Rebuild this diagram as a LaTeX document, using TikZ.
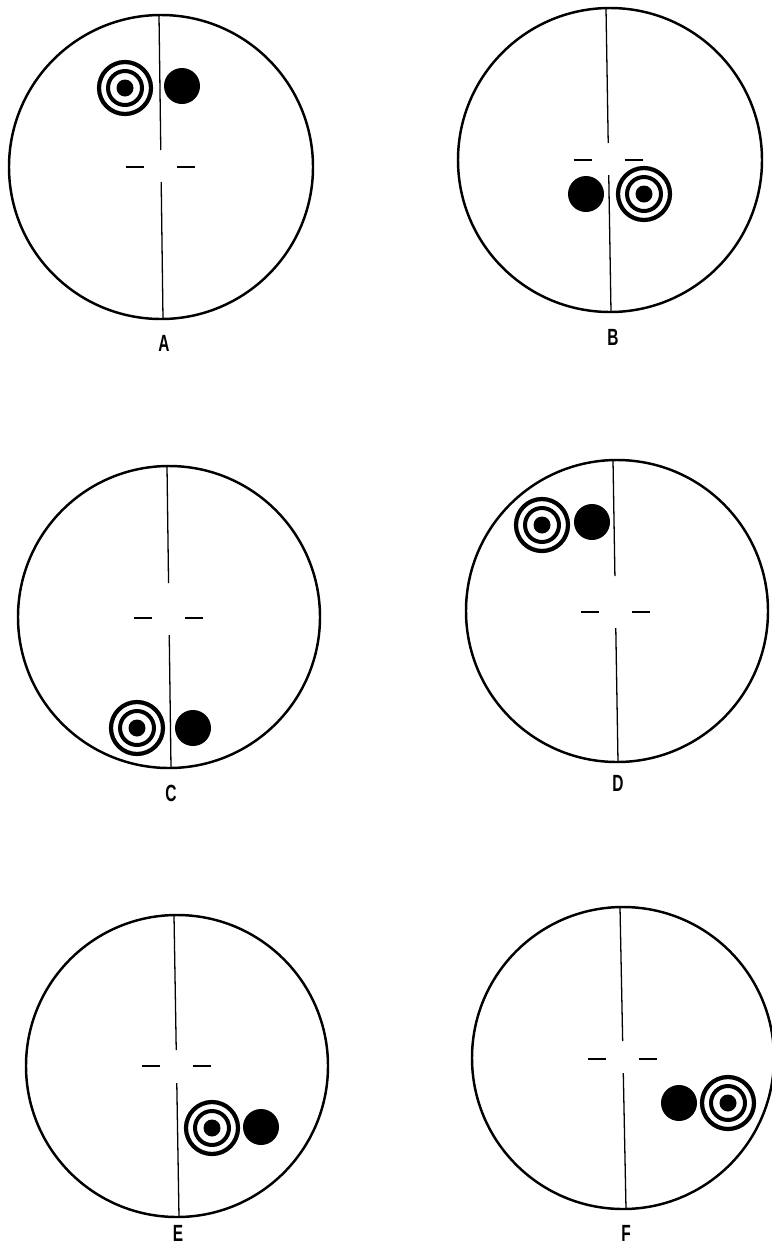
\documentclass[tikz,border=0pt]{standalone}
\usepackage{fontspec}
\usepackage{tikz}
\usetikzlibrary{calc}
\newfontfamily\tagfont{Liberation Sans}
\tikzset{
  rim/.style={line width=2.1pt},
  hair/.style={line width=1.1pt},
  tick/.style={line width=1.2pt},
  panel/.style={font=\tagfont\bfseries\fontsize{20}{20}\selectfont,inner sep=0pt},
}
\newcommand{\target}[2]{%
  \draw[line width=3.6pt] (#1,#2) circle (26);
  \draw[line width=3.4pt] (#1,#2) circle (17);
  \fill (#1,#2) circle (8.5);
}
\newcommand{\spot}[2]{\fill (#1,#2) circle (18);}
% \reticle{cx}{cy}{r}{top x}{bottom x}{gap top}{gap bottom}{tick y}
\newcommand{\reticle}[8]{%
  \draw[rim] (#1,#2) circle (#3);
  \coordinate (t) at (#4,#2-#3);
  \coordinate (b) at (#5,#2+#3);
  \pgfmathsetmacro{\gapa}{(#6-#2+#3)/(2*#3)}
  \pgfmathsetmacro{\gapb}{(#7-#2+#3)/(2*#3)}
  \draw[hair] (t) -- ($(t)!\gapa!(b)$);
  \draw[hair] ($(t)!\gapb!(b)$) -- (b);
  \pgfmathsetmacro{\xmid}{(#4+#5)/2}
  \draw[tick] (\xmid-35,#8) -- (\xmid-17,#8);
  \draw[tick] (\xmid+16,#8) -- (\xmid+34,#8);
}

\begin{document}
\begin{tikzpicture}[x=0.03cm,y=-0.03cm]
\useasboundingbox (0,0) rectangle (771,1249);
\reticle{161}{167}{152}{159}{163}{150}{182}{167}
\target{125}{88} \spot{182}{86}
\node[panel] (labA) at (164,343) {\scalebox{0.66}[1]{A}};

\reticle{610}{160}{152}{606}{611}{143}{175}{160}
\target{644}{194} \spot{586}{194}
\node[panel] (labB) at (613,337) {\scalebox{0.66}[1]{B}};

\reticle{169}{617}{151}{167}{171}{583}{635}{618}
\target{137}{728} \spot{193}{728}
\node[panel] (labC) at (171,793) {\scalebox{0.66}[1]{C}};

\reticle{617}{611}{151}{613}{618}{576}{628}{612}
\target{542}{525} \spot{592}{522}
\node[panel] (labD) at (618,783) {\scalebox{0.66}[1]{D}};

\reticle{177}{1066}{151}{174}{179}{1050}{1083}{1066}
\target{212}{1128} \spot{261}{1127}
\node[panel] (labE) at (178,1233) {\scalebox{0.66}[1]{E}};

\reticle{623}{1058}{151}{620}{626}{1041}{1073}{1059}
\target{728}{1103} \spot{679}{1103}
\node[panel] (labF) at (626,1233) {\scalebox{0.66}[1]{F}};
\end{tikzpicture}
\end{document}
